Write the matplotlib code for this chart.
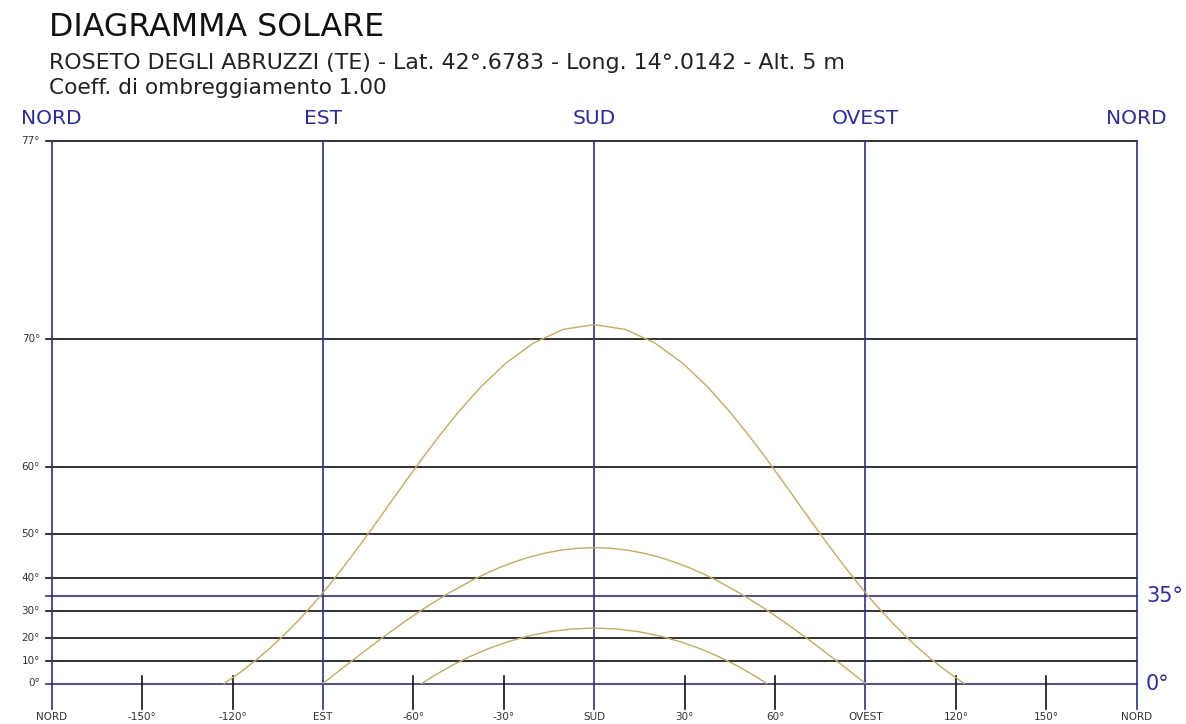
import numpy as np
import matplotlib
matplotlib.use("Agg")
import matplotlib.pyplot as plt

# ---- data (azimuth from south in degrees, solar altitude in degrees) ----
summer_az = [-122.75, -122.04, -117.10, -112.33, -107.68, -103.08, -98.44, -93.68,
             -88.67, -83.25, -77.20, -73.85, -70.21, -66.21, -61.78, -56.82, -51.21,
             -44.85, -37.61, -29.41, -20.28, -10.36, 0.0, 10.36, 20.28, 29.41, 37.61,
             44.85, 51.21, 56.82, 61.78, 66.21, 70.21, 73.85, 77.20, 83.25, 88.67,
             93.68, 98.44, 103.08, 107.68, 112.33, 117.10, 122.04, 122.75]
summer_alt = [0.0, 0.66, 5.46, 10.46, 15.65, 20.96, 26.38, 31.86,
              37.37, 42.87, 48.30, 50.97, 53.59, 56.15, 58.63, 61.00, 63.24,
              65.29, 67.11, 68.63, 69.79, 70.52, 70.76, 70.52, 69.79, 68.63, 67.11,
              65.29, 63.24, 61.00, 58.63, 56.15, 53.59, 50.97, 48.30, 42.87, 37.37,
              31.86, 26.38, 20.96, 15.65, 10.46, 5.46, 0.66, 0.0]

equinox_az = [-90.0, -84.90, -79.71, -74.31, -68.62, -62.52, -55.87, -48.54, -40.42,
              -36.03, -31.43, -26.60, -21.57, -16.35, -10.99, -5.52, 0.0, 5.52, 10.99,
              16.35, 21.57, 26.60, 31.43, 36.03, 40.42, 48.54, 55.87,
              62.52, 68.62, 74.31, 79.71, 84.90, 90.0]
equinox_alt = [0.0, 5.51, 10.97, 16.34, 21.57, 26.59, 31.32, 35.68, 39.55,
               41.25, 42.78, 44.12, 45.25, 46.14, 46.80, 47.19, 47.32, 47.19, 46.80,
               46.14, 45.25, 44.12, 42.78, 41.25, 39.55, 35.68, 31.32,
               26.59, 21.57, 16.34, 10.97, 5.51, 0.0]

winter_az = [-57.25, -52.78, -47.32, -41.54, -35.40, -28.90, -22.04, -14.89, -7.50,
             0.0, 7.50, 14.89, 22.04, 28.90, 35.40, 41.54, 47.32, 52.78, 57.25]
winter_alt = [0.0, 3.88, 8.10, 11.96, 15.40, 18.33, 20.70, 22.45, 23.52,
              23.88, 23.52, 22.45, 20.70, 18.33, 15.40, 11.96, 8.10, 3.88, 0.0]

black_levels = [10, 20, 30, 40, 50, 60, 70, 77]
blue_levels = [0, 35]
left_ticks = [0, 10, 20, 30, 40, 50, 60, 70, 77]
left_labels = ["0°", "10°", "20°", "30°", "40°", "50°", "60°", "70°", "77°"]
right_ticks = [35, 0]
right_labels = ["35°", "0°"]

cardinal_pos = [-180, -90, 0, 90, 180]
cardinal_labels = ["NORD", "EST", "SUD", "OVEST", "NORD"]
minor_pos = [-150, -120, -60, -30, 30, 60, 120, 150]
bottom_pos = [-180, -150, -120, -90, -60, -30, 0, 30, 60, 90, 120, 150, 180]
bottom_labels = ["NORD", "-150°", "-120°", "EST", "-60°", "-30°", "SUD",
                 "30°", "60°", "OVEST", "120°", "150°", "NORD"]

title = "DIAGRAMMA SOLARE"
subtitle = "ROSETO DEGLI ABRUZZI (TE) - Lat. 42°.6783 - Long. 14°.0142 - Alt. 5 m"
subtitle2 = "Coeff. di ombreggiamento 1.00"

# ---- styling ----
W, H = 1186, 724
BLUE_LINE = "#2e2e96"
BLUE_TEXT = "#2b2bb0"
BLACK = "#111111"
CURVE = "#c9ab58"

plt.rcParams["font.family"] = ["DejaVu Sans"]
fig = plt.figure(figsize=(W / 100, H / 100), dpi=100)
fig.patch.set_facecolor("white")

x0, x1 = 51.7, 1136.7
ytop, ybot = 141.0, 683.5
ax = fig.add_axes([x0 / W, 1 - ybot / H, (x1 - x0) / W, (ybot - ytop) / H])
ax.set_facecolor("none")

ax.set_yscale("function", functions=(lambda a: np.tan(np.radians(a)),
                                     lambda t: np.degrees(np.arctan(t))))
ax.set_xlim(-180, 180)
ax.set_ylim(0, 77)
for s in ax.spines.values():
    s.set_visible(False)
ax.set_xticks([])
ax.set_yticks([])

axw = x1 - x0
axh = ybot - ytop
left_ext = -(x0 - 46) / axw

for lv in black_levels:
    ax.axhline(lv, xmin=left_ext, xmax=1, color=BLACK, lw=1.2, clip_on=False, zorder=1)
for lv in blue_levels:
    ax.axhline(lv, xmin=left_ext, xmax=1, color=BLUE_LINE, lw=1.2, clip_on=False, zorder=1)

below = -25 / axh
for xp in cardinal_pos:
    ax.axvline(xp, ymin=below, ymax=1, color=BLUE_LINE, lw=1.2, clip_on=False, zorder=2)
for xp in minor_pos:
    ax.axvline(xp, ymin=below, ymax=7.5 / axh, color=BLACK, lw=1.2, clip_on=False, zorder=2)

for az, alt in [(summer_az, summer_alt), (equinox_az, equinox_alt), (winter_az, winter_alt)]:
    ax.plot(az, alt, color=CURVE, lw=1.0, zorder=3, clip_on=False)

ytr = ax.get_yaxis_transform()
xtr = ax.get_xaxis_transform()
for v, lab in zip(left_ticks, left_labels):
    ax.text(-(x0 - 40) / axw, v, lab, transform=ytr, ha="right", va="center",
            fontsize=7.5, color="#333333")
for v, lab in zip(right_ticks, right_labels):
    ax.text((1146 - x0) / axw, v, lab, transform=ytr, ha="left", va="center",
            fontsize=15, color=BLUE_TEXT)
for xp, lab in zip(bottom_pos, bottom_labels):
    ax.text(xp, -(717 - ybot) / axh, lab, transform=xtr, ha="center", va="center",
            fontsize=7.5, color="#333333")
for xp, lab in zip(cardinal_pos, cardinal_labels):
    ax.text(xp, (ybot - 118) / axh, lab, transform=xtr, ha="center", va="center",
            fontsize=14.5, color=BLUE_TEXT)

fig.text(49 / W, 1 - 28 / H, title, ha="left", va="center", fontsize=22.8, color="#111111")
fig.text(49 / W, 1 - 63 / H, subtitle, ha="left", va="center", fontsize=15.9, color="#222222")
fig.text(49 / W, 1 - 88 / H, subtitle2, ha="left", va="center", fontsize=15.6, color="#222222")

fig.savefig("out.png", dpi=100, facecolor="white")
